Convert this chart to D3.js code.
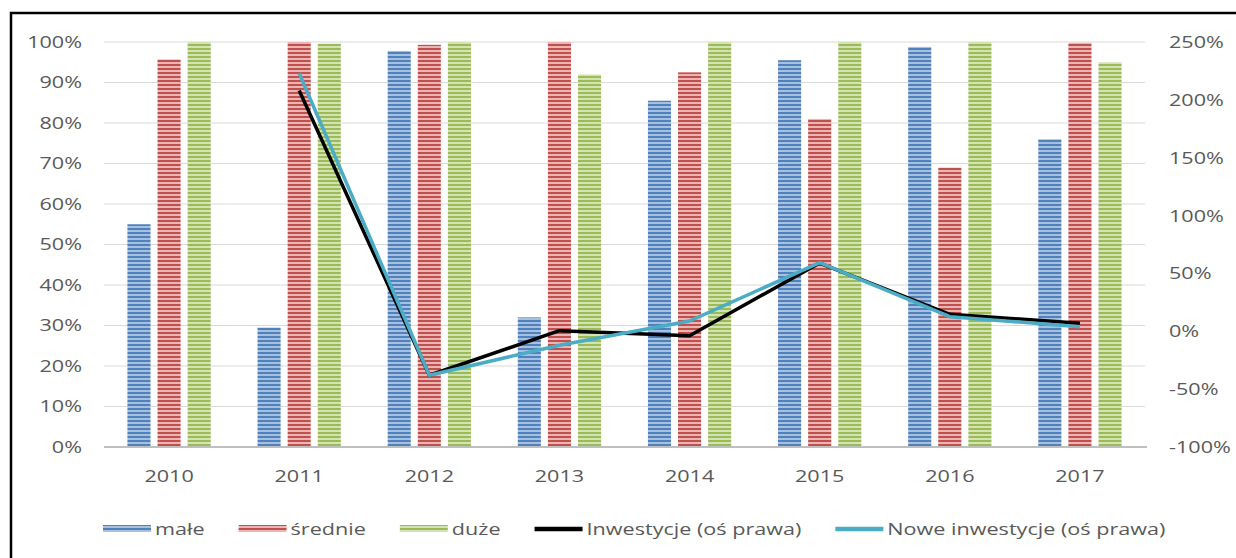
<!DOCTYPE html>
<html><head><meta charset="utf-8">
<script src="https://cdn.jsdelivr.net/npm/d3@7"></script>
<style>html,body{margin:0;padding:0;background:#fff;}svg{display:block;}</style>
</head><body>
<script>
const years = ['2010','2011','2012','2013','2014','2015','2016','2017'];
const seriesNames = ['małe','średnie','duże'];
const male = [55, 29.5, 97.8, 32, 85.5, 95.5, 98.8, 76];
const srednie = [95.7, 100, 99.3, 100, 92.5, 81, 69, 99.8];
const duze = [100, 99.6, 100, 92, 100, 100, 100, 95];
const inwestycje = [null, 208, -38, 0.5, -3.8, 59, 14.7, 7];
const nowe = [null, 223, -38, -12, 8.9, 59.3, 12.6, 4];
const leftTicks = [0,10,20,30,40,50,60,70,80,90,100];
const rightTicks = [-100,-50,0,50,100,150,200,250];
const lineNames = ['Inwestycje (oś prawa)','Nowe inwestycje (oś prawa)'];

const W = 1236, H = 558;
const STRETCH = 1.27;
const FS = 17;
const svg = d3.select('body').append('svg').attr('width', W).attr('height', H);
svg.append('rect').attr('width', W).attr('height', H).attr('fill', '#fff');
svg.append('rect').attr('x', 11).attr('y', 13).attr('width', W + 10).attr('height', H + 10)
  .attr('fill', 'none').attr('stroke', '#000').attr('stroke-width', 2.5);

const colors = {
  'małe': ['#4F81BD', '#A7C0E0'],
  'średnie': ['#C0504D', '#EBB5B3'],
  'duże': ['#9BBB59', '#D3E3B2']
};
const defs = svg.append('defs');
seriesNames.forEach((s, i) => {
  const p = defs.append('pattern').attr('id', 'pat' + i).attr('patternUnits', 'userSpaceOnUse')
    .attr('width', 8).attr('height', 4);
  p.append('rect').attr('width', 8).attr('height', 4).attr('fill', colors[s][1]);
  p.append('rect').attr('width', 8).attr('height', 2).attr('fill', colors[s][0]);
});

const plotL = 104, plotR = 1145, yTop = 42, yBot = 447;
const x0 = d3.scaleBand().domain(years).range([plotL, plotR]).paddingInner(0.36).paddingOuter(0.18);
const x1 = d3.scaleBand().domain(seriesNames).range([0, x0.bandwidth()]).paddingInner(0.233);
const yL = d3.scaleLinear().domain([0, 100]).range([yBot, yTop]);
const yR = d3.scaleLinear().domain([-100, 250]).range([yBot, yTop]);
const font = "'Open Sans', sans-serif";

function stretch(sel) {
  sel.each(function() {
    const w = this.getComputedTextLength();
    d3.select(this).attr('textLength', w * STRETCH).attr('lengthAdjust', 'spacingAndGlyphs');
  });
}

// gridlines
svg.append('g').selectAll('line').data(leftTicks.filter(d => d > 0)).join('line')
  .attr('x1', plotL).attr('x2', plotR).attr('y1', d => yL(d)).attr('y2', d => yL(d))
  .attr('stroke', '#D9D9D9').attr('stroke-width', 1);

// left axis
const axL = d3.axisLeft(yL).tickValues(leftTicks).tickFormat(d => d + '%').tickSize(0).tickPadding(22);
const gL = svg.append('g').attr('transform', `translate(${plotL},0)`).call(axL);
gL.select('.domain').remove();
gL.selectAll('text').attr('font-family', font).attr('font-size', FS).attr('fill', '#595959').call(stretch);

// right axis
const axR = d3.axisRight(yR).tickValues(rightTicks).tickFormat(d => d + '%').tickSize(0).tickPadding(24);
const gR = svg.append('g').attr('transform', `translate(${plotR},0)`).call(axR);
gR.select('.domain').remove();
gR.selectAll('text').attr('font-family', font).attr('font-size', FS).attr('fill', '#595959').call(stretch);

// bars
const data = years.map((y, i) => ({year: y, vals: [male[i], srednie[i], duze[i]]}));
const g = svg.append('g');
data.forEach(d => {
  d.vals.forEach((v, j) => {
    g.append('rect').attr('x', x0(d.year) + x1(seriesNames[j])).attr('width', x1.bandwidth())
      .attr('y', yL(v)).attr('height', yL(0) - yL(v)).attr('fill', `url(#pat${j})`);
  });
});

// baseline
svg.append('line').attr('x1', plotL).attr('x2', plotR + 2).attr('y1', yBot).attr('y2', yBot)
  .attr('stroke', '#BFBFBF').attr('stroke-width', 2);

// x axis
const axB = d3.axisBottom(x0).tickSize(0).tickPadding(23);
const gB = svg.append('g').attr('transform', `translate(0,${yBot})`).call(axB);
gB.select('.domain').remove();
gB.selectAll('text').attr('font-family', font).attr('font-size', FS).attr('fill', '#595959').call(stretch);

// lines
const cx = y => x0(y) + x0.bandwidth() / 2;
const line = d3.line().defined(d => d.v !== null).x(d => cx(d.year)).y(d => yR(d.v));
const lineCols = ['#000000', '#4BACC6'];
[inwestycje, nowe].forEach((arr, k) => {
  svg.append('path').datum(years.map((y, i) => ({year: y, v: arr[i]})))
    .attr('d', line).attr('fill', 'none').attr('stroke', lineCols[k])
    .attr('stroke-width', 3.5).attr('stroke-linejoin', 'round');
});

// legend
const leg = svg.append('g').attr('font-family', font).attr('font-size', FS).attr('fill', '#595959');
const legY = 529, swW = 48, txtGap = 4, itemGap = 34;
const items = [
  {name: seriesNames[0], type: 'bar', idx: 0},
  {name: seriesNames[1], type: 'bar', idx: 1},
  {name: seriesNames[2], type: 'bar', idx: 2},
  {name: lineNames[0], type: 'line', idx: 0},
  {name: lineNames[1], type: 'line', idx: 1}
];
let lx = 103;
items.forEach(it => {
  if (it.type === 'bar') {
    leg.append('rect').attr('x', lx).attr('y', legY - 4).attr('width', swW).attr('height', 7)
      .attr('fill', `url(#pat${it.idx})`);
  } else {
    leg.append('line').attr('x1', lx).attr('x2', lx + swW).attr('y1', legY).attr('y2', legY)
      .attr('stroke', lineCols[it.idx]).attr('stroke-width', 4.5);
  }
  const t = leg.append('text').attr('x', lx + swW + txtGap).attr('y', legY).attr('dy', '0.35em').text(it.name);
  const w = t.node().getComputedTextLength() * STRETCH;
  t.attr('textLength', w).attr('lengthAdjust', 'spacingAndGlyphs');
  lx += swW + txtGap + w + itemGap;
});
</script>
</body></html>
